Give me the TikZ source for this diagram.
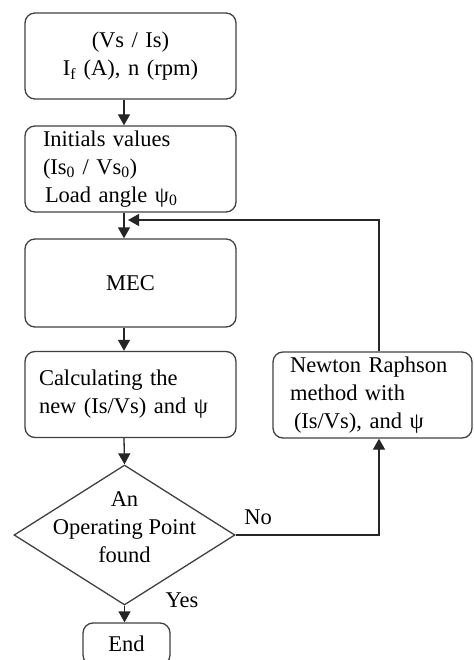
\documentclass[tikz,border=0pt]{standalone}
\usepackage{fontspec}
\setmainfont{Liberation Serif}
\usetikzlibrary{shapes.geometric,arrows.meta}
\begin{document}
\begin{tikzpicture}[x=1pt, y=-1pt,
    font=\fontsize{22.5}{28}\selectfont,
    box/.style={draw=black!75, line width=1.3pt, rounded corners=10pt, minimum height=86pt, inner ysep=0pt},
    arr/.style={draw=black!85, line width=1.3pt, -{Triangle[width=12pt, length=11pt]}}]
  \useasboundingbox (0, 0) rectangle (473, 660);
  \coordinate (spine) at (124, 220);
  \coordinate (loop) at (379, 220);
  \node [box, text width=175pt, inner xsep=18pt, align=center] (input) at (130.5, 56) {(Vs / Is)\\I\textsubscript{f} (A), n (rpm)};
  \node [box, text width=175pt, inner xsep=18pt, align=left] (init) at (130.5, 169) {Initials values\\(Is\textsubscript{0} / Vs\textsubscript{0})\\\hspace{2pt}Load angle ψ\textsubscript{0}};
  \node [box, minimum width=211pt, minimum height=88pt] (mec) at (130.5, 283) {MEC};
  \node [box, text width=183pt, inner xsep=14pt, align=left] (calc) at (130.5, 394.5) {Calculating the\\new (Is/Vs) and ψ};
  \node [box, text width=165pt, inner xsep=17pt, align=left] (newton) at (372.5, 395) {Newton Raphson\\method with\\\hspace{4pt}(Is/Vs), and ψ};
  \node [draw=black!75, line width=1.3pt, diamond, minimum width=221pt, minimum height=140pt, inner sep=0pt] (found) at (124.5, 535) {};
  \node [align=center] (foundtext) at ([yshift=8pt]found.center) {An\\Operating Point\\found};
  \node [box, minimum width=87pt, minimum height=42pt] (end) at (126.5, 644) {End};
  \node (no) at (258, 517) {No};
  \node (yes) at (182, 600) {Yes};
  \draw [arr] (input.south -| spine) -- (init.north -| spine);
  \draw [arr] (init.south -| spine) -- (mec.north -| spine);
  \draw [arr] (mec.south -| spine) -- (calc.north -| spine);
  \draw [arr] (calc.south -| spine) -- (found.north);
  \draw [arr] (found.south) -- (end.north -| found.south);
  \draw [arr] (found.east) -| (newton.south -| loop);
  \draw [arr] (newton.north -| loop) -- (loop) -- ([xshift=4pt]spine);
\end{tikzpicture}
\end{document}
